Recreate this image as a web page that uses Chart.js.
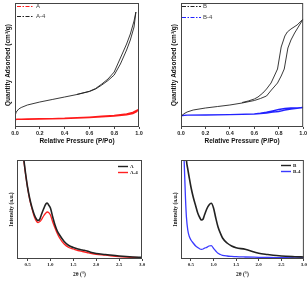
<!DOCTYPE html>
<html>
<head>
<meta charset="utf-8">
<script src="https://cdn.jsdelivr.net/npm/chart.js@4.4.0/dist/chart.umd.min.js"></script>
<style>
    body { margin: 0; background: #fff; }
    #wrap { position: relative; width: 308px; height: 282px; overflow: hidden; background: #fff; }
    canvas { position: absolute; }
</style>
</head>
<body>
<div id="wrap">
    <canvas id="isoA" width="150" height="146" style="left:0;top:0"></canvas>
    <canvas id="isoB" width="142" height="146" style="left:166px;top:0"></canvas>
    <canvas id="xrdA" width="150" height="136" style="left:0;top:146px"></canvas>
    <canvas id="xrdB" width="148" height="136" style="left:160px;top:146px"></canvas>
</div>
<script>
// ---- tick labels
var pressureTicks = [0, 0.2, 0.4, 0.6, 0.8, 1.0];
var angleTicks = [0.5, 1.0, 1.5, 2.0, 2.5, 3.0];

// ---- N2 isotherms (arbitrary units)
var aAdsP = [0, 0.02, 0.05, 0.1, 0.2, 0.3, 0.4, 0.5, 0.6, 0.7, 0.8, 0.9, 0.95, 0.98, 0.99];
var aAdsQ = [7.5, 7.7, 7.8, 7.9, 8.1, 8.3, 8.6, 9.0, 9.5, 10.2, 11.0, 12.2, 13.5, 15.5, 17];
var aDesP = [0.99, 0.97, 0.95, 0.9, 0.85, 0.8, 0.7, 0.6, 0.5, 0.4];
var aDesQ = [17, 15.8, 14.5, 13.0, 12.2, 11.5, 10.6, 9.8, 9.2, 8.7];

var a4AdsP = [0, 0.01, 0.03, 0.05, 0.1, 0.2, 0.3, 0.4, 0.5, 0.6, 0.65, 0.7, 0.75, 0.8, 0.85, 0.9, 0.93, 0.96, 0.975];
var a4AdsQ = [11, 15, 18, 19.5, 22, 25, 27.5, 30, 32.5, 35.5, 38, 42, 46.5, 52, 63, 77, 87, 100, 115];
var a4DesP = [0.975, 0.96, 0.93, 0.9, 0.85, 0.8, 0.75, 0.7, 0.65, 0.6, 0.5];
var a4DesQ = [115, 106, 93, 83, 69, 55, 48, 43, 38.5, 35.7, 32.6];

var bAdsP = [0, 0.02, 0.05, 0.1, 0.2, 0.3, 0.4, 0.5, 0.6, 0.65, 0.7, 0.74, 0.79, 0.82, 0.845, 0.875, 0.9, 0.93, 0.96, 1.0];
var bAdsQ = [10, 13, 15, 17, 19, 20.5, 22, 24, 26.5, 28.5, 31, 37, 44, 51, 58, 79, 87, 94, 100, 108];
var bDesP = [1.0, 0.95, 0.9, 0.87, 0.85, 0.82, 0.79, 0.76, 0.737, 0.7, 0.67, 0.63, 0.6, 0.55, 0.5];
var bDesQ = [108, 102, 98, 95, 91, 80, 58, 50, 44, 38, 34, 30, 28, 26, 24.5];

var b4AdsP = [0, 0.01, 0.05, 0.2, 0.4, 0.6, 0.7, 0.75, 0.8, 0.85, 0.9, 0.95, 1.0];
var b4AdsQ = [10.5, 11.5, 11.8, 12, 12.4, 13, 14, 14.8, 15.5, 16.8, 18, 18.7, 19.5];
var b4DesP = [1.0, 0.95, 0.9, 0.85, 0.8, 0.75, 0.7, 0.65, 0.6];
var b4DesQ = [19.5, 19.2, 19, 18.5, 17.5, 16.2, 14.8, 13.8, 13.2];

// ---- low angle XRD (a.u.)
var angleA = [0.38, 0.42, 0.45, 0.5, 0.55, 0.6, 0.65, 0.7, 0.73, 0.77, 0.8, 0.85, 0.9, 0.93, 0.96, 1.0, 1.05, 1.1, 1.15, 1.2, 1.3, 1.4, 1.5, 1.6, 1.7, 1.8, 1.9, 2.0, 2.2, 2.5, 2.8, 3.0];
var intA = [115, 99, 88, 72, 60, 51, 44, 39.5, 38.5, 40, 44, 50, 55, 56, 54, 51, 42, 34, 28, 24, 17.5, 13.5, 11.5, 10, 9, 8, 6.5, 5.5, 4.5, 3, 2, 1.7];
var intA4 = [113, 98, 87, 71.5, 59, 50, 42, 37.5, 36.5, 37.5, 39, 43, 46, 47, 46.5, 44, 37, 31, 25.5, 21, 15, 11.5, 10, 8.5, 7.5, 6.5, 5.5, 4.7, 3.8, 2.3, 1.6, 1.3];

var angleB = [0.34, 0.36, 0.38, 0.4, 0.43, 0.46, 0.5, 0.55, 0.6, 0.65, 0.7, 0.73, 0.77, 0.8, 0.85, 0.9, 0.95, 1.0, 1.05, 1.1, 1.15, 1.2, 1.3, 1.4, 1.5, 1.7, 2.0, 2.2, 2.5, 2.8, 3.0];
var intB = [140, 128, 115, 99, 90, 82, 72, 62, 54, 46, 41, 39, 40, 44, 50, 54, 55.7, 51, 41, 32, 26, 21, 16, 13, 11.3, 9.7, 5.7, 4.5, 3, 2.3, 2];
var intB4 = [110, 85, 60, 42, 29, 23, 19, 16, 13.3, 11.5, 10, 9.7, 10, 10.8, 11.7, 13, 13.3, 10.7, 8, 5.7, 4.5, 3.7, 3, 2.6, 2.3, 2, 1.7, 1.5, 1.3, 1.1, 1];

// adsorption branch then desorption branch, one closed path
function loop(adsP, adsQ, desP, desQ) {
    var pts = adsP.map(function (p, i) { return {x: p, y: adsQ[i]}; });
    return pts.concat(desP.map(function (p, i) { return {x: p, y: desQ[i]}; }));
}

function curve(xs, ys) {
    return xs.map(function (x, i) { return {x: x, y: ys[i]}; });
}

// legend drawn inside the plot box
var innerLegend = {
    id: 'innerLegend',
    afterDatasetsDraw: function (chart, args, opts) {
        var ctx = chart.ctx;
        var area = chart.chartArea;
        ctx.save();
        ctx.font = opts.font;
        ctx.textBaseline = 'middle';
        chart.data.datasets.forEach(function (ds, i) {
            var x = area.left + opts.x;
            var y = Math.round(area.top + opts.y + i * opts.rowH) + 0.5;
            ctx.strokeStyle = ds.borderColor;
            ctx.lineWidth = opts.lineWidth;
            ctx.setLineDash(opts.dash || []);
            ctx.beginPath();
            ctx.moveTo(x, y);
            ctx.lineTo(x + opts.lineLen, y);
            ctx.stroke();
            ctx.setLineDash([]);
            ctx.fillStyle = opts.color;
            ctx.fillText(ds.label, x + opts.lineLen + opts.gap, y);
        });
        ctx.restore();
    }
};

var frame = {
    id: 'frame',
    afterDraw: function (chart) {
        var a = chart.chartArea;
        var ctx = chart.ctx;
        ctx.save();
        ctx.strokeStyle = '#444';
        ctx.lineWidth = 1;
        ctx.strokeRect(a.left + 0.5, a.top + 0.5, a.right - a.left - 1, a.bottom - a.top - 1);
        ctx.restore();
    }
};

function makeChart(id, o) {
    var canvas = document.getElementById(id);
    return new Chart(canvas.getContext('2d'), {
        type: 'scatter',
        data: { datasets: o.datasets },
        options: {
            responsive: false,
            animation: false,
            devicePixelRatio: 1,
            layout: { padding: o.padding },
            elements: { point: { radius: 0 } },
            plugins: {
                legend: { display: false },
                tooltip: { enabled: false },
                innerLegend: o.legend
            },
            scales: {
                x: {
                    type: 'linear',
                    min: o.xMin,
                    max: o.xMax,
                    afterFit: function (s) { s.height = o.xHeight; },
                    afterBuildTicks: function (s) {
                        s.ticks = o.xTicks.map(function (v) { return {value: v}; });
                    },
                    grid: { drawOnChartArea: false, drawTicks: true, tickLength: 2, color: '#444' },
                    border: { display: false },
                    ticks: {
                        padding: 1,
                        maxRotation: 0,
                        autoSkip: false,
                        color: '#222',
                        font: o.tickFont,
                        callback: function (v) { return Number(v).toFixed(1); }
                    },
                    title: {
                        display: true,
                        text: o.xTitle,
                        color: '#111',
                        font: o.titleFont,
                        padding: { top: 0, bottom: o.xTitlePad }
                    }
                },
                y: {
                    min: 0,
                    max: o.yMax,
                    afterFit: function (s) { s.width = o.yWidth; },
                    ticks: { display: false },
                    grid: { display: false },
                    border: { display: false },
                    title: {
                        display: true,
                        text: o.yTitle,
                        color: '#111',
                        font: o.titleFont,
                        padding: { top: o.yTitlePad, bottom: 0 }
                    }
                }
            }
        },
        plugins: [innerLegend, frame]
    });
}

var sansTick = { family: 'Liberation Sans', size: 5.5, weight: 'bold' };
var sansTitle = { family: 'Liberation Sans', size: 6.5, weight: 'bold' };
var serifTick = { family: 'Liberation Serif', size: 5, weight: 'bold' };
var serifTitle = { family: 'Liberation Serif', size: 5.5, weight: 'bold' };

var isoTitle = 'Quantity Adsorbed (cm\u00b3/g)';
var pTitle = 'Relative Pressure (P/Po)';

makeChart('isoA', {
    datasets: [
        { label: 'A', data: loop(aAdsP, aAdsQ, aDesP, aDesQ), showLine: true, borderColor: '#ff1a1a', borderWidth: 1.6, tension: 0 },
        { label: 'A-4', data: loop(a4AdsP, a4AdsQ, a4DesP, a4DesQ), showLine: true, borderColor: '#222', borderWidth: 0.9, tension: 0 }
    ],
    padding: { top: 3, right: 11, left: 0, bottom: 0 },
    xMin: 0, xMax: 1, xTicks: pressureTicks, xHeight: 19, xTitle: pTitle, xTitlePad: 1,
    yMax: 124, yWidth: 15, yTitle: isoTitle, yTitlePad: 4,
    tickFont: sansTick, titleFont: sansTitle,
    legend: { x: 2, y: 3, rowH: 10, lineLen: 16, gap: 3, lineWidth: 1, dash: [4, 1.5, 1.5, 1.5], font: '6px "Liberation Sans"', color: '#444' }
});

makeChart('isoB', {
    datasets: [
        { label: 'B', data: loop(bAdsP, bAdsQ, bDesP, bDesQ), showLine: true, borderColor: '#222', borderWidth: 0.9, tension: 0 },
        { label: 'B-4', data: loop(b4AdsP, b4AdsQ, b4DesP, b4DesQ), showLine: true, borderColor: '#2222ff', borderWidth: 1.3, tension: 0 }
    ],
    padding: { top: 3, right: 4, left: 0, bottom: 0 },
    xMin: 0, xMax: 1, xTicks: pressureTicks, xHeight: 19, xTitle: pTitle, xTitlePad: 1,
    yMax: 124, yWidth: 15, yTitle: isoTitle, yTitlePad: 4,
    tickFont: sansTick, titleFont: sansTitle,
    legend: { x: 1, y: 3, rowH: 10.5, lineLen: 19, gap: 2, lineWidth: 1, dash: [4, 1.5, 1.5, 1.5], font: '6px "Liberation Sans"', color: '#444' }
});

makeChart('xrdA', {
    datasets: [
        { label: 'A', data: curve(angleA, intA), showLine: true, borderColor: '#222', borderWidth: 1.6, cubicInterpolationMode: 'monotone' },
        { label: 'A-4', data: curve(angleA, intA4), showLine: true, borderColor: '#ff2020', borderWidth: 1.3, cubicInterpolationMode: 'monotone' }
    ],
    padding: { top: 14, right: 8, left: 0, bottom: 0 },
    xMin: 0.27, xMax: 3.0, xTicks: angleTicks, xHeight: 23, xTitle: '2\u03b8 (\u00b0)', xTitlePad: 4,
    yMax: 99, yWidth: 17, yTitle: 'Intensity (a.u.)', yTitlePad: 8.5,
    tickFont: serifTick, titleFont: serifTitle,
    legend: { x: 101, y: 6, rowH: 6, lineLen: 10, gap: 2, lineWidth: 1.4, font: 'bold 5px "Liberation Serif"', color: '#111' }
});

makeChart('xrdB', {
    datasets: [
        { label: 'B', data: curve(angleB, intB), showLine: true, borderColor: '#222', borderWidth: 1.6, cubicInterpolationMode: 'monotone' },
        { label: 'B-4', data: curve(angleB, intB4), showLine: true, borderColor: '#3a3aff', borderWidth: 1.3, cubicInterpolationMode: 'monotone' }
    ],
    padding: { top: 14, right: 4, left: 0, bottom: 0 },
    xMin: 0.28, xMax: 3.0, xTicks: angleTicks, xHeight: 23, xTitle: '2\u03b8 (\u00b0)', xTitlePad: 4,
    yMax: 99, yWidth: 21, yTitle: 'Intensity (a.u.)', yTitlePad: 12,
    tickFont: serifTick, titleFont: serifTitle,
    legend: { x: 100, y: 5, rowH: 6, lineLen: 10, gap: 2, lineWidth: 1.4, font: 'bold 5px "Liberation Serif"', color: '#111' }
});
</script>
</body>
</html>
